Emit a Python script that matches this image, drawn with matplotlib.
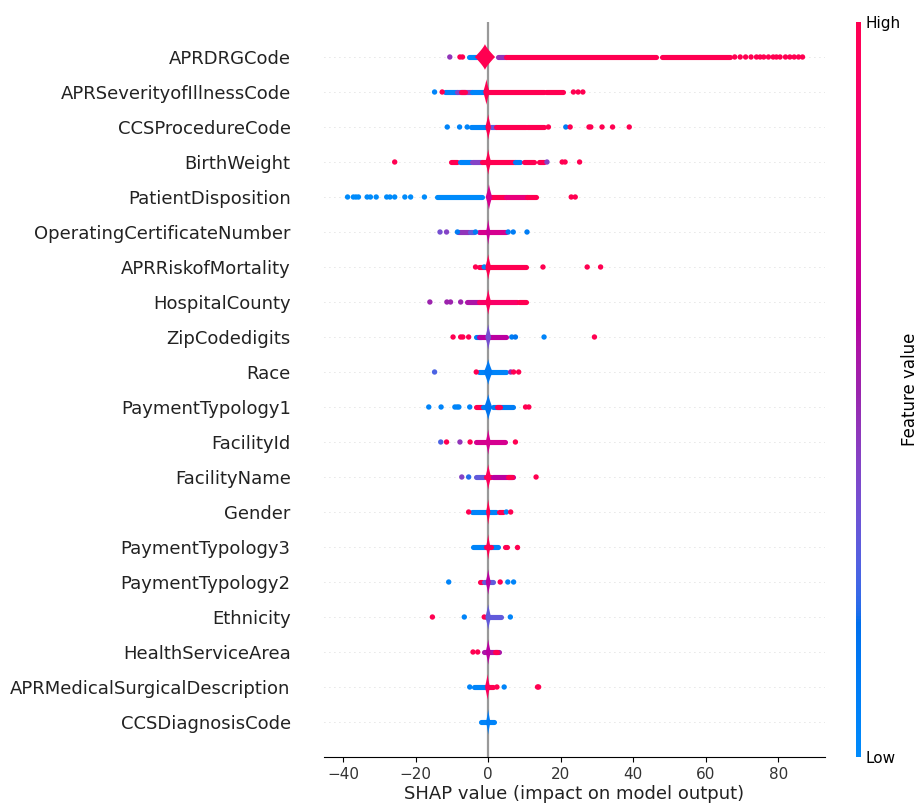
import numpy as np
import matplotlib
matplotlib.use("Agg")
import matplotlib.pyplot as plt
from matplotlib.colors import LinearSegmentedColormap
from matplotlib.cm import ScalarMappable

# features, top to bottom
features = [
    "APRDRGCode", "APRSeverityofIllnessCode", "CCSProcedureCode", "BirthWeight",
    "PatientDisposition", "OperatingCertificateNumber", "APRRiskofMortality",
    "HospitalCounty", "ZipCodedigits", "Race", "PaymentTypology1", "FacilityId",
    "FacilityName", "Gender", "PaymentTypology3", "PaymentTypology2", "Ethnicity",
    "HealthServiceArea", "APRMedicalSurgicalDescription", "CCSDiagnosisCode",
]

# isolated points: (shap value, normalised feature value)
dots = [
    [(-10.6, .45), (-7.8, 1), (-7.1, 1), (68, 1), (69.5, 1), (71, 1), (72.5, 1), (74, 1), (75, 1),
     (76, 1), (77.3, 1), (78.6, 1), (79.5, 1), (80.5, 1), (82, 1), (83.2, 1), (84.4, 1), (85.6, 1), (86.7, 1)],
    [(-14.8, .05), (-12.7, 1), (23.5, 1), (24.8, 1), (26.1, 1)],
    [(-11.3, .05), (-7.9, .05), (-5.8, .05), (16.6, 1), (21.4, .1), (22.6, 1), (27.8, 1), (28.3, 1),
     (31.4, 1), (34.3, 1), (38.9, 1)],
    [(-25.8, 1), (16.2, .4), (20.4, 1), (21.2, 1), (25.2, 1)],
    [(-38.8, 0), (-37.2, 0), (-36.5, 0), (-35.8, 0), (-33.4, 0), (-32.5, 0), (-30.9, 0), (-28, 0),
     (-27.1, 0), (-25.8, 0), (-23, 0), (-21.4, 0), (-17.6, 0), (22.9, 1), (24, 1)],
    [(-13.3, .35), (-11.5, .4), (-8.5, .1), (-3.5, .1), (5.5, .1), (6.9, .1), (10.7, .1)],
    [(-3.5, 1), (-1.1, .05), (15.1, 1), (27.3, 1), (31, 1)],
    [(-16.1, .5), (-11.4, .5), (-10.4, .5), (-7.6, .5)],
    [(-9.7, 1), (-7.6, 1), (-7, 1), (-5.4, 1), (6.5, .1), (7.5, .15), (15.4, .05), (29.3, 1)],
    [(-14.8, .25), (-3.3, 1), (6.2, .5), (7, 1), (8.4, 1)],
    [(-16.4, .05), (-13, .05), (-9.2, .05), (-8.6, .05), (-8.1, .05), (-5.1, .05), (10.3, 1), (11.2, 1)],
    [(-13.1, .25), (-11.5, 1), (-7.8, .45), (-5, 1), (7.5, 1)],
    [(-7.3, .4), (-5.4, .2), (13.2, 1)],
    [(-5.4, 1), (5, .05), (6.2, 1)],
    [(8, 1)],
    [(-10.9, .05), (3.3, 1), (5.4, .05), (7, .05)],
    [(-15.4, 1), (-6.6, .05), (-1.1, 1), (6.1, .05)],
    [(-4.2, 1), (-2.9, 1)],
    [(-5.1, .05), (2.4, 1), (4.4, .05), (13.6, 1), (13.9, 1)],
    [],
]

# dense runs of overlapping points: (from, to, normalised feature value)
runs = [
    [(-5.4, -3.0, 0), (2.7, 5.0, .45), (5.0, 46.2, 1), (48, 66.8, 1)],
    [(-12, -8.7, .05), (-8.7, -4.5, .4), (-7.5, -6.5, 1), (-4.5, -1.1, .05), (0.1, 15.5, 1), (16, 20.7, 1)],
    [(-4.7, -0.7, .05), (0.8, 2.2, .3), (2.2, 10.3, 1), (10.7, 15.5, 1)],
    [(-10.2, -8.7, 1), (-7.8, -4.7, .05), (-4.5, -1.6, .4), (-1.6, -0.7, 1), (0.3, 7.4, 1),
     (7.4, 8.8, .1), (9.8, 12.6, 1), (14, 15.5, 1)],
    [(-14.2, -1.6, 0), (0.8, 5, 1), (5, 10.7, .8), (10.7, 13.1, 1)],
    [(-8.3, -5.4, .45), (-5, -3.8, .3), (-2.6, 5, .7)],
    [(-2.6, 10.3, 1)],
    [(-5.9, -2.6, .55), (-2.6, 7.9, .9), (8.6, 10.3, 1)],
    [(-3.5, -2, .1), (-2.5, 5, .6)],
    [(-2.6, 5, .05)],
    [(-3.5, -1.5, 1), (-1.5, 0, .1), (1.2, 6.9, .1), (2.5, 3.2, 1)],
    [(-3.5, 4.6, .7)],
    [(-3.5, -1.2, .3), (-0.6, 0.8, 1), (1.2, 6.9, .6), (5.5, 6.5, 1)],
    [(-4.5, 2.2, .05), (3.1, 4.1, 1)],
    [(-4.3, 2.7, .05), (-0.5, 0.8, 1), (4.6, 5.3, 1)],
    [(-2.4, -1.8, 1), (-1.2, 1.2, .3)],
    [(-0.7, 3.6, .3)],
    [(-1.1, 3.1, .55), (2.0, 2.5, 1)],
    [(-4, -0.7, .05), (0.1, 1.3, 1)],
    [(-2.1, 1.7, .05)],
]

# densest pile of points around zero: centre, half width, feature value
core_center = [-0.9, -0.5, 0, 0, 0.2, 0, 0, 0, 0, 0, 0, 0, 0, 0, 0, 0, 0, 0, -0.2, 0]
core_width = [2.8, 0.9, 0.8, 0.8, 0.9, 0.6, 0.8, 0.8, 0.8, 1.2, 1.1, 0.7, 0.8, 0.6, 0.6, 0.7, 0.8, 0.7, 0.7, 0.6]
core_value = [1, 1, 1, 1, .7, .65, 1, .95, .35, .12, .15, .7, .95, 1, 1, .6, .3, .6, .95, .1]


def lch2rgb(l, c, h):
    a, b = c * np.cos(h), c * np.sin(h)
    fy = (l + 16) / 116
    f = np.array([fy + a / 500, fy, fy - b / 200])
    xyz = np.where(f > 6 / 29, f ** 3, 3 * (6 / 29) ** 2 * (f - 4 / 29)) * np.array([0.95047, 1.0, 1.08883])
    m = np.array([[3.2406, -1.5372, -0.4986], [-0.9689, 1.8758, 0.0415], [0.0557, -0.2040, 1.0570]])
    rgb = np.clip(m @ xyz, 0, 1)
    rgb = np.where(rgb > 0.0031308, 1.055 * rgb ** (1 / 2.4) - 0.055, 12.92 * rgb)
    return np.clip(rgb, 0, 1)


# shap-style red/blue map built in Lch space
n = 100
ls = list(np.linspace(54, 40, n // 2)) + list(np.linspace(40, 54, n // 2))
cs = np.linspace(70, 90, n)
hs = np.linspace(4.6588, 0.35470565 + 2 * np.pi, n)
cmap = LinearSegmentedColormap.from_list("red_blue", [lch2rgb(l, c, h) for l, c, h in zip(ls, cs, hs)])


def col(v):
    # floats only: an int would index the lookup table
    return cmap(float(v))


fig = plt.figure(figsize=(9.19, 8.05), dpi=100, facecolor="white")
ax = fig.add_axes([324 / 919, 48 / 805, 501 / 919, 735 / 805])
cax = fig.add_axes([856 / 919, 48 / 805, 5 / 919, 735 / 805])

nf = len(features)
ax.axvline(0, color="#999999", lw=1.6, zorder=1)
tt = np.linspace(-1, 1, 81)
for i, name in enumerate(features):
    y = nf - 1 - i
    ax.axhline(y, color="#cccccc", lw=0.6, dashes=(1, 5), zorder=0)
    for x0, x1, v in runs[i]:
        ax.plot([x0, x1], [y, y], color=col(v), lw=3.7, solid_capstyle="round", zorder=2)
    if dots[i]:
        xs, vs = zip(*dots[i])
        ax.scatter(xs, [y] * len(xs), c=[col(v) for v in vs], s=15, linewidths=0, zorder=3)
    hw = core_width[i] * (1 - np.abs(tt)) ** 1.25
    ax.fill(np.r_[core_center[i] + hw, core_center[i] - hw[::-1]], np.r_[y + 0.37 * tt, y + 0.37 * tt[::-1]],
            color=col(core_value[i]), lw=0, zorder=4)

ax.set_xlim(-45.3, 92.9)
ax.set_ylim(-1, nf)
ax.set_yticks(range(nf))
ax.set_yticklabels(features[::-1], fontsize=13, color="#222222")
ax.tick_params(axis="y", length=0, pad=24)
ax.tick_params(axis="x", labelsize=11, labelcolor="#333333")
for s in ["top", "right", "left"]:
    ax.spines[s].set_visible(False)
ax.set_xlabel("SHAP value (impact on model output)", fontsize=13, color="#222222", labelpad=2)

sm = ScalarMappable(cmap=cmap)
sm.set_array([0, 1])
cb = fig.colorbar(sm, cax=cax, ticks=[0, 1])
cb.set_ticklabels(["Low", "High"])
cb.ax.tick_params(labelsize=11, length=0)
cb.outline.set_visible(False)
cb.set_label("Feature value", size=12, labelpad=0)

fig.savefig("out.png", dpi=100, facecolor="white")
